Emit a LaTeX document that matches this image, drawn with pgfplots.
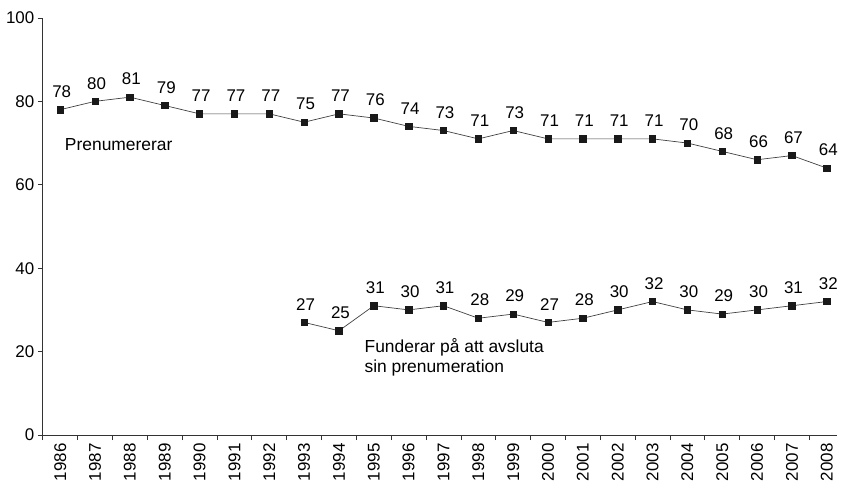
\documentclass[border=0pt]{standalone}
\usepackage{fontspec}
\setmainfont{Liberation Sans}
\usepackage{pgfplots}
\pgfplotsset{compat=1.18}

\newcommand{\fs}{\fontsize{17}{20}\selectfont}
\newcommand{\ft}{\fontsize{17.5}{20.5}\selectfont}

\begin{document}
\begin{tikzpicture}
\begin{axis}[
    name=ax,
    scale only axis,
    width=798pt, height=419pt,
    xmin=-0.5, xmax=22.3,
    ymin=0, ymax=100,
    axis x line=bottom, axis y line=left,
    axis line style={-, black!80, line width=0.8pt},
    xtick={0,...,22},
    xticklabels={1986,1987,1988,1989,1990,1991,1992,1993,1994,1995,1996,1997,
                 1998,1999,2000,2001,2002,2003,2004,2005,2006,2007,2008},
    minor xtick={-0.5,0.5,...,21.5},
    ytick={0,20,...,100},
    tick align=outside,
    major tick length=5pt, minor tick length=5pt,
    x tick style={draw=none},
    minor x tick style={draw=black!80, line width=0.8pt},
    y tick style={black!80, line width=0.8pt},
    x tick label style={rotate=90, anchor=east, font=\fs},
    y tick label style={font=\fs},
    /pgf/number format/assume math mode=true,
    nodes near coords,
    every node near coord/.append style={font=\fs, text=black, anchor=south,
        yshift=8.5pt, xshift=1.5pt},
    clip=false,
]
\addplot[black!75, line width=0.7pt, mark=square*, mark size=3.2pt,
         mark options={fill=black!90, draw=black!90, solid}]
  coordinates {(0,78) (1,80) (2,81) (3,79) (4,77) (5,77) (6,77) (7,75) (8,77)
               (9,76) (10,74) (11,73) (12,71) (13,73) (14,71) (15,71) (16,71)
               (17,71) (18,70) (19,68) (20,66) (21,67) (22,64)};
\addplot[black!75, line width=0.7pt, mark=square*, mark size=3.2pt,
         mark options={fill=black!90, draw=black!90, solid}]
  coordinates {(7,27) (8,25) (9,31) (10,30) (11,31) (12,28) (13,29) (14,27)
               (15,28) (16,30) (17,32) (18,30) (19,29) (20,30) (21,31) (22,32)};
\node[anchor=west, font=\ft, inner sep=0pt] at (axis cs:0.13,69.6) {Prenumererar};
\node[anchor=west, align=left, font=\ft, inner sep=0pt] at (axis cs:8.73,18.6)
  {Funderar på att avsluta\\sin prenumeration};
\end{axis}
\path ([shift={(-43pt,-49pt)}]ax.south west) rectangle ([shift={(798pt,18pt)}]ax.north west);
\end{tikzpicture}
\end{document}
